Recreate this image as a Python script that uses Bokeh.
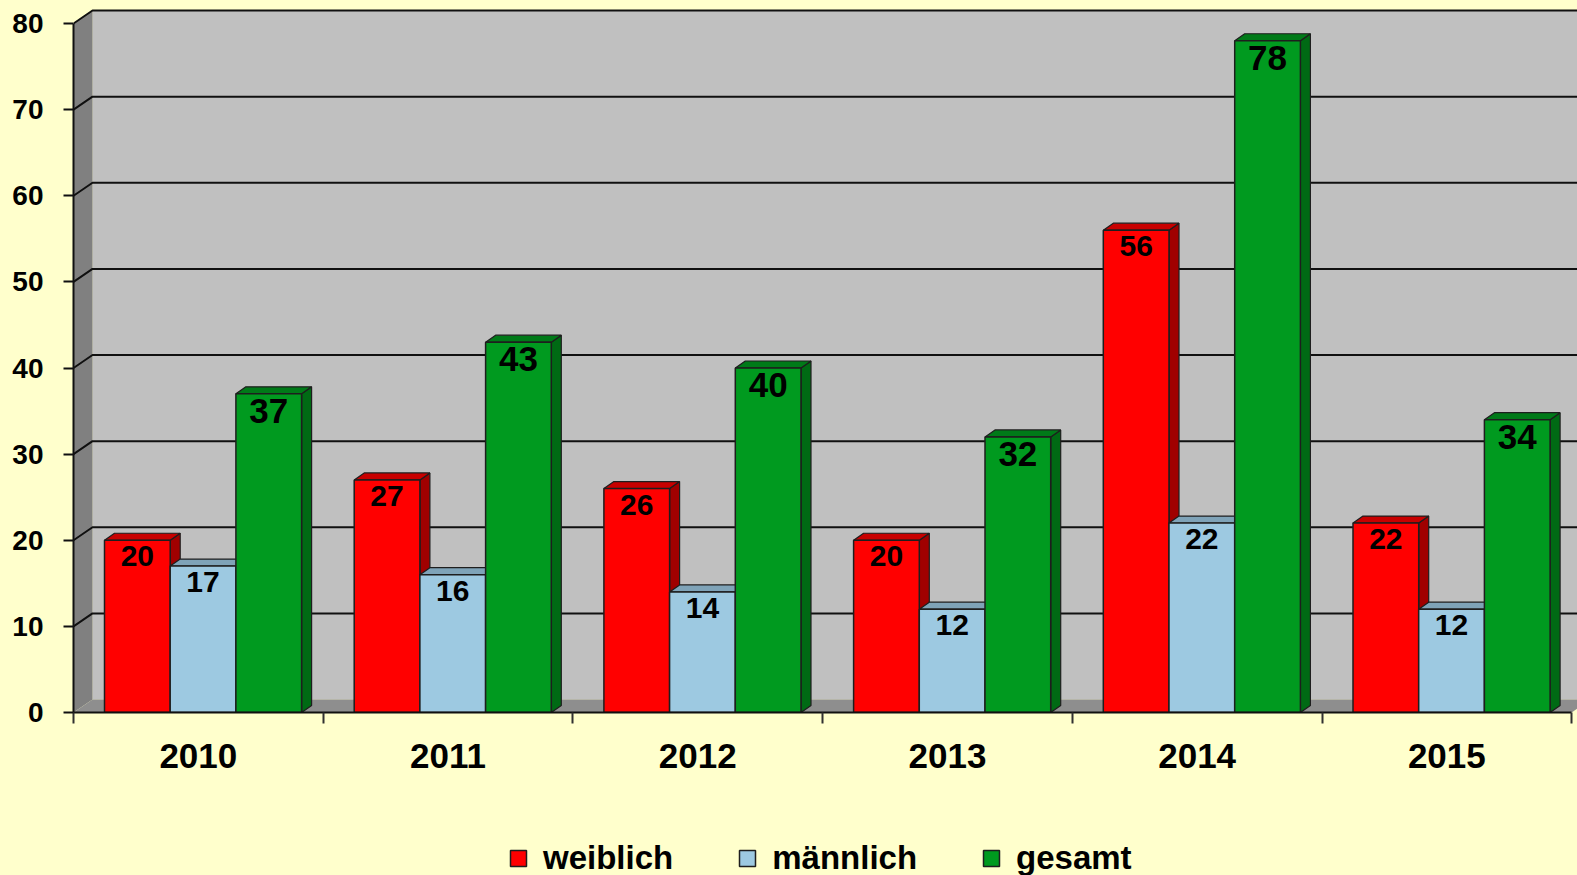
from bokeh.plotting import figure
from bokeh.models import Range1d, FixedTicker, Legend, LegendItem
from bokeh.layouts import column
from bokeh.core.properties import value
from bokeh.embed import file_html
from bokeh.resources import INLINE

# ---------------- data ----------------
years = ["2010", "2011", "2012", "2013", "2014", "2015"]
weiblich = [20, 27, 26, 20, 56, 22]
maennlich = [17, 16, 14, 12, 22, 12]
gesamt = [37, 43, 40, 32, 78, 34]
series_names = ["weiblich", "männlich", "gesamt"]
y_ticks = [0, 10, 20, 30, 40, 50, 60, 70, 80]

# ---------------- layout / style ----------------
FONT = "Liberation Sans"
BG = "#FFFFCC"
W = 1577
H_MAIN, H_LEG = 800, 75
FL = 73          # frame left in figure px
FB = 712         # frame bottom in figure px
PX_X = 249.7     # px per category
PX_Y = 8.6125    # px per value unit
x_end = (W - FL) / PX_X
y_end = FB / PX_Y
YMAX = 80
NCAT = len(years)

dX, dY = 19 / PX_X, 13 / PX_Y     # wall depth
bdx, bdy = 10 / PX_X, 7 / PX_Y    # bar depth
BW = 65.7 / PX_X                  # bar width
OFF0 = 31 / PX_X                  # first bar offset inside category

front_cols = ["#FF0000", "#9DC9E1", "#009A1F"]
top_cols = ["#C80000", "#7FA3B8", "#007A18"]
side_cols = ["#A00000", "#7896A8", "#006A14"]
label_sizes = ["30px", "30px", "35px"]
OUT = "#1E1E1E"

p = figure(width=W, height=H_MAIN, x_range=Range1d(0, x_end), y_range=Range1d(0, y_end),
           output_backend="svg", toolbar_location=None,
           min_border_left=FL, min_border_right=0, min_border_top=0,
           min_border_bottom=H_MAIN - FB)
p.background_fill_color = BG
p.border_fill_color = BG
p.outline_line_color = None
p.xgrid.visible = False
p.ygrid.visible = False

# ---------------- walls ----------------
p.quad(left=[dX], right=[x_end + 1], bottom=[dY], top=[YMAX + dY],
       fill_color="#C0C0C0", line_color=None)
p.patch(x=[0, 0, dX, dX], y=[0, YMAX, YMAX + dY, dY], fill_color="#808080", line_color=None)
p.patch(x=[0, NCAT, NCAT + dX, dX], y=[0, 0, dY, dY], fill_color="#8E8E8E", line_color=None)

grid_vals = [v for v in y_ticks if v > 0]
gx = [[0, dX, x_end + 1] for v in grid_vals]
gy = [[v, v + dY, v + dY] for v in grid_vals]
p.multi_line(xs=gx, ys=gy, line_color="#101010", line_width=2)

# ---------------- bars ----------------
all_series = [weiblich, maennlich, gesamt]
for si, vals in enumerate(all_series):
    x0 = [c + OFF0 + si * BW for c in range(NCAT)]
    x1 = [a + BW for a in x0]
    side_xs = [[b, b + bdx, b + bdx, b] for b in x1]
    side_ys = [[0, bdy, v + bdy, v] for v in vals]
    p.patches(xs=side_xs, ys=side_ys, fill_color=side_cols[si], line_color=OUT, line_width=1.2)
    top_xs = [[a, a + bdx, b + bdx, b] for a, b in zip(x0, x1)]
    top_ys = [[v, v + bdy, v + bdy, v] for v in vals]
    p.patches(xs=top_xs, ys=top_ys, fill_color=top_cols[si], line_color=OUT, line_width=1.2)
    p.quad(left=x0, right=x1, bottom=[0] * NCAT, top=vals,
           fill_color=front_cols[si], line_color=OUT, line_width=1.5)
    p.text(x=[(a + b) / 2 for a, b in zip(x0, x1)], y=vals, text=[str(v) for v in vals],
           text_align="center", text_baseline="middle", x_offset=0,
           y_offset=17 if si == 2 else 16,
           text_font=value(FONT), text_font_style="bold",
           text_font_size=label_sizes[si], text_color="black")

# ---------------- axes ----------------
ya = p.yaxis[0]
ya.ticker = FixedTicker(ticks=y_ticks)
ya.bounds = (0, YMAX)
ya.major_tick_out = 10
ya.major_tick_in = 0
ya.minor_tick_out = 0
ya.minor_tick_in = 0
ya.axis_line_width = 2
ya.axis_line_color = "#101010"
ya.major_tick_line_width = 2
ya.major_tick_line_color = "#101010"
ya.major_label_standoff = 20
ya.major_label_text_font = FONT
ya.major_label_text_font_style = "bold"
ya.major_label_text_font_size = "28px"
ya.major_label_text_color = "black"

xa = p.xaxis[0]
xa.ticker = FixedTicker(ticks=[i + 0.5 for i in range(NCAT)],
                        minor_ticks=list(range(NCAT + 1)))
xa.major_label_overrides = {i + 0.5: years[i] for i in range(NCAT)}
xa.bounds = (0, NCAT)
xa.major_tick_out = 0
xa.major_tick_in = 0
xa.minor_tick_out = 11
xa.minor_tick_in = 0
xa.minor_tick_line_width = 2
xa.minor_tick_line_color = "#303030"
xa.axis_line_width = 2
xa.axis_line_color = "#101010"
xa.major_label_standoff = 20
xa.major_label_text_font = FONT
xa.major_label_text_font_style = "bold"
xa.major_label_text_font_size = "35px"
xa.major_label_text_color = "black"

# ---------------- legend (separate strip below) ----------------
lg = figure(width=W, height=H_LEG, x_range=Range1d(0, 1), y_range=Range1d(0, 1),
            output_backend="svg", toolbar_location=None,
            min_border_left=0, min_border_right=0, min_border_top=0, min_border_bottom=0)
lg.axis.visible = False
lg.grid.visible = False
lg.background_fill_color = BG
lg.border_fill_color = BG
lg.outline_line_color = None
items = []
for si, name in enumerate(series_names):
    r = lg.quad(left=[-3], right=[-2], top=[-2], bottom=[-3],
                fill_color=front_cols[si], line_color=OUT, line_width=1.5)
    items.append(LegendItem(label=name, renderers=[r]))
legend = Legend(items=items, orientation="horizontal", location=(435, -2),
                glyph_width=20, glyph_height=20, label_standoff=15, spacing=64,
                padding=0, margin=0, border_line_color=None, background_fill_alpha=0,
                label_text_font=FONT, label_text_font_style="bold",
                label_text_font_size="33px", label_text_color="black")
lg.add_layout(legend)

page = column(p, lg, spacing=0, styles={"background-color": BG})
open("out.html", "w").write(file_html(page, INLINE))
